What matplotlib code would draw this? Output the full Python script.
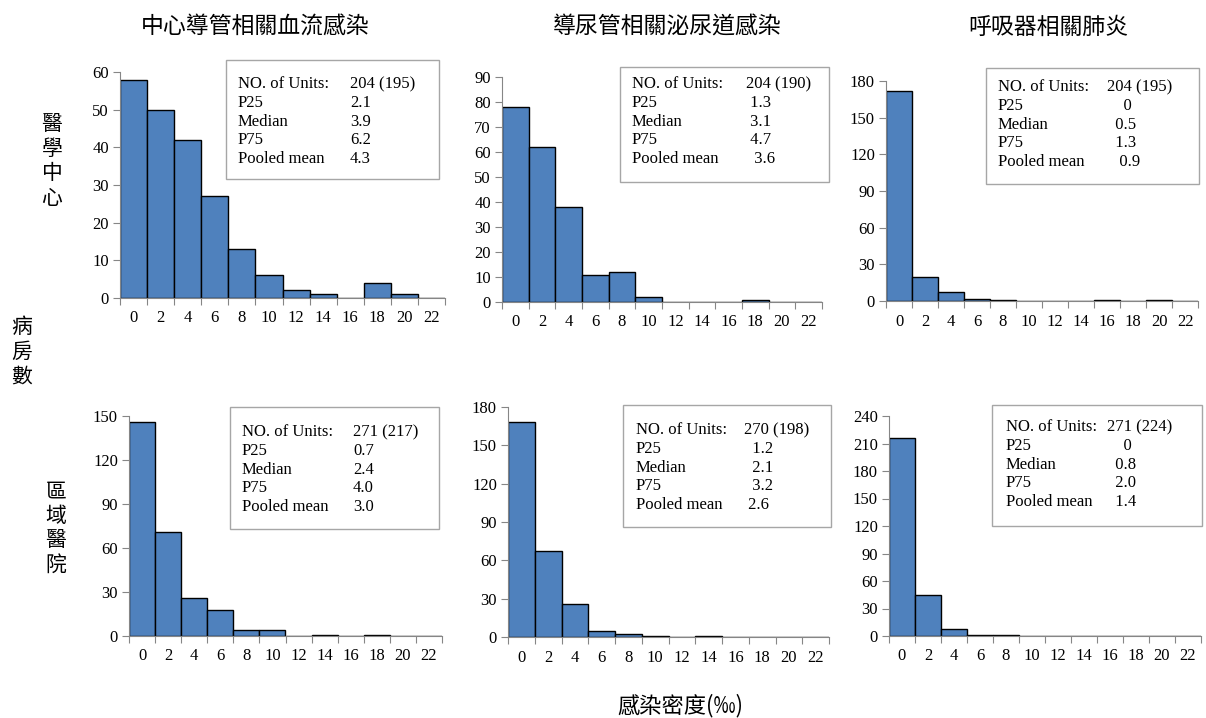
import matplotlib.pyplot as plt
from matplotlib.patches import Rectangle

W, H = 1206, 718

categories = ['0', '2', '4', '6', '8', '10', '12', '14', '16', '18', '20', '22']
titles = ['中心導管相關血流感染', '導尿管相關泌尿道感染', '呼吸器相關肺炎']
row_labels = ['醫學中心', '區域醫院']
ylabel = '病房數'
xlabel = '感染密度(‰)'

counts_clabsi_mc = [58, 50, 42, 27, 13, 6, 2, 1, 0, 4, 1, 0]
counts_cauti_mc = [78, 62, 38, 11, 12, 2, 0, 0, 0, 1, 0, 0]
counts_vap_mc = [172, 20, 7, 2, 1, 0, 0, 0, 1, 0, 1, 0]
counts_clabsi_rh = [146, 71, 26, 18, 4, 4, 0, 1, 0, 1, 0, 0]
counts_cauti_rh = [168, 67, 26, 5, 2, 1, 0, 1, 0, 0, 0, 0]
counts_vap_rh = [216, 45, 8, 1, 1, 0, 0, 0, 0, 0, 0, 0]

stat_names = ['NO. of Units:', 'P25', 'Median', 'P75', 'Pooled mean']
stats_clabsi_mc = ['204 (195)', '2.1', '3.9', '6.2', '4.3']
stats_cauti_mc = ['204 (190)', ' 1.3', ' 3.1', ' 4.7', '  3.6']
stats_vap_mc = ['204 (195)', '    0', '  0.5', '  1.3', '   0.9']
stats_clabsi_rh = ['271 (217)', '0.7', '2.4', '4.0', '3.0']
stats_cauti_rh = ['270 (198)', '  1.2', '  2.1', '  3.2', ' 2.6']
stats_vap_rh = ['271 (224)', '    0', '  0.8', '  2.0', '  1.4']

ymax = [60, 90, 180, 150, 180, 240]
ystep = [10, 10, 30, 30, 30, 30]

# pixel layout: axes (left, top, right, bottom), box (left, top, right, bottom), text cols x, first line y
axes_px = [(120, 72, 445, 298), (502, 77, 822, 302), (886, 81, 1198, 301),
           (129, 416, 442, 636), (508, 407, 829, 637), (889, 416, 1201, 636)]
box_px = [(226, 60, 439, 179), (620, 67, 829, 182), (986, 68, 1199, 184),
          (230, 407, 439, 529), (623, 405, 831, 527), (992, 405, 1202, 526)]
col_px = [(238, 350, 84), (632, 746, 84), (998, 1107, 87),
          (242, 353, 432), (636, 744, 430), (1006, 1107, 427)]

all_counts = [counts_clabsi_mc, counts_cauti_mc, counts_vap_mc,
              counts_clabsi_rh, counts_cauti_rh, counts_vap_rh]
all_stats = [stats_clabsi_mc, stats_cauti_mc, stats_vap_mc,
             stats_clabsi_rh, stats_cauti_rh, stats_vap_rh]

serif = ['Liberation Serif', 'DejaVu Serif']
cjk = ['Noto Sans CJK TC', 'DejaVu Sans']


def fx(x):
    return x / W


def fy(y):
    return 1 - y / H


fig = plt.figure(figsize=(W / 100, H / 100), dpi=100)
fig.patch.set_facecolor('white')

for i in range(6):
    l, t, r, b = axes_px[i]
    ax = fig.add_axes([fx(l), fy(b), fx(r) - fx(l), fy(t) - fy(b)])
    pos = list(range(len(categories)))
    ax.bar(pos, all_counts[i], width=1.0, color='#4F81BD', edgecolor='black', linewidth=1.0)
    ax.set_xlim(-0.5, len(categories) - 0.5)
    ax.set_ylim(0, ymax[i])
    ax.set_yticks(range(0, ymax[i] + 1, ystep[i]))
    ax.set_xticks([p - 0.5 for p in range(len(categories) + 1)])
    ax.set_xticklabels([])
    ax.set_xticks(pos, minor=True)
    ax.set_xticklabels(categories, minor=True)
    ax.tick_params(axis='x', which='minor', length=0, pad=9, labelsize=12)
    ax.tick_params(axis='x', which='major', length=5, color='#868686')
    ax.tick_params(axis='y', length=5, color='#868686', labelsize=12, pad=3)
    for lab in ax.get_xticklabels(minor=True) + ax.get_yticklabels():
        lab.set_fontfamily(serif)
    for s in ['top', 'right']:
        ax.spines[s].set_visible(False)
    for s in ['left', 'bottom']:
        ax.spines[s].set_color('#868686')

    bl, bt, br, bb = box_px[i]
    fig.patches.append(Rectangle((fx(bl), fy(bb)), fx(br) - fx(bl), fy(bt) - fy(bb),
                                 transform=fig.transFigure, facecolor='white',
                                 edgecolor='#A6A6A6', linewidth=1.0, zorder=5))
    cx1, cx2, cy = col_px[i]
    for k in range(len(stat_names)):
        yy = cy + k * 18.8
        fig.text(fx(cx1), fy(yy), stat_names[k], fontsize=12, family=serif,
                 va='center', ha='left', zorder=6)
        fig.text(fx(cx2), fy(yy), all_stats[i][k], fontsize=12, family=serif,
                 va='center', ha='left', zorder=6)

title_x = [255, 667, 1048]
for j in range(3):
    fig.text(fx(title_x[j]), fy(27), titles[j], fontsize=16.5, family=cjk,
             ha='center', va='center')

fig.text(fx(52), fy(161), '\n'.join(row_labels[0]), fontsize=15, family=cjk,
         ha='center', va='center', linespacing=1.15)
fig.text(fx(56), fy(528), '\n'.join(row_labels[1]), fontsize=15, family=cjk,
         ha='center', va='center', linespacing=1.15)
fig.text(fx(22), fy(352), '\n'.join(ylabel), fontsize=15, family=cjk,
         ha='center', va='center', linespacing=1.15)
fig.text(fx(680), fy(706), xlabel, fontsize=16, family=cjk, ha='center', va='center')

fig.savefig('out.png', dpi=100)
